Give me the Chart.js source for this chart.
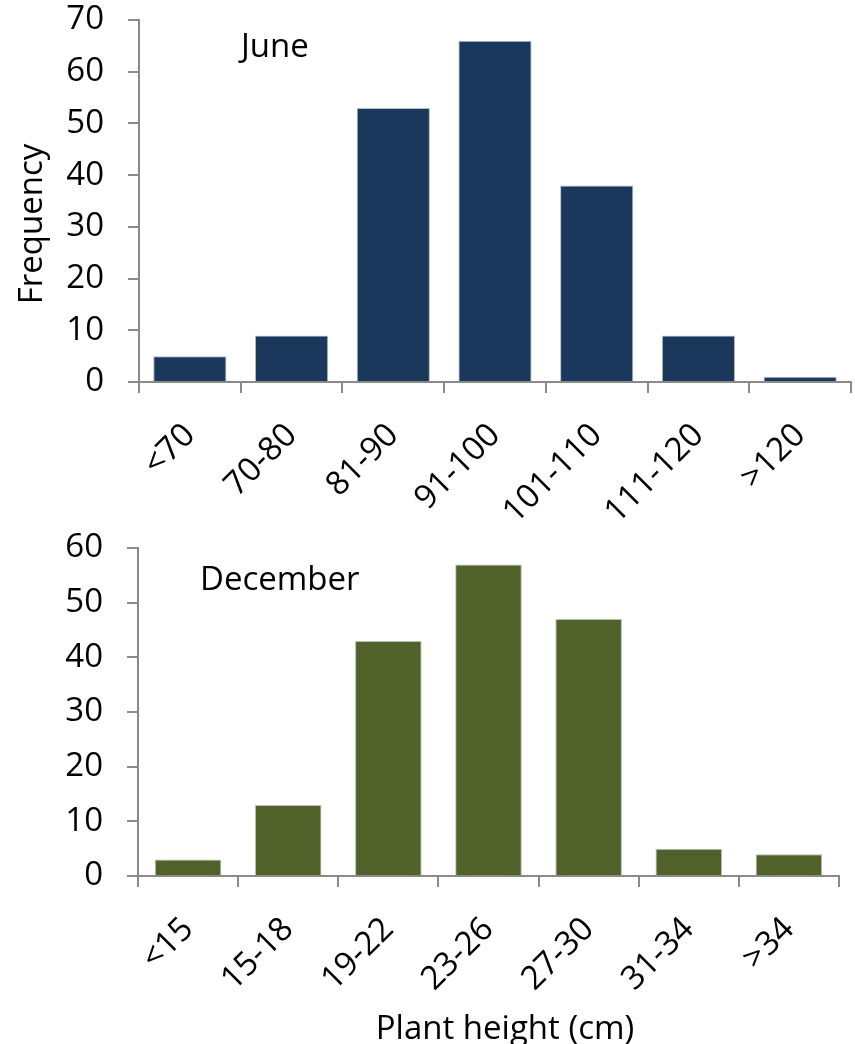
<!DOCTYPE html>
<html>
<head>
<meta charset="utf-8">
<script src="https://cdn.jsdelivr.net/npm/chart.js@4.4.1/dist/chart.umd.min.js"></script>
<style>
  html, body { margin: 0; padding: 0; background: #fff; }
  #wrap { position: relative; width: 855px; height: 1044px; }
  canvas { position: absolute; left: 0; }
</style>
</head>
<body>
<div id="wrap">
  <canvas id="juneChart" width="855" height="520" style="top:0"></canvas>
  <canvas id="decChart" width="855" height="524" style="top:520px"></canvas>
</div>
<script>
// Plant height classes (cm) and counts for the two sampling months
const juneClasses = ['<70', '70-80', '81-90', '91-100', '101-110', '111-120', '>120'];
const juneCounts  = [5, 9, 53, 66, 38, 9, 1];

const decClasses  = ['<15', '15-18', '19-22', '23-26', '27-30', '31-34', '>34'];
const decCounts   = [3, 13, 43, 57, 47, 5, 4];

const juneTicks = { min: 0, max: 70, step: 10 };
const decTicks  = { min: 0, max: 60, step: 10 };

const FONT = '"Open Sans", "DejaVu Sans", sans-serif';
const FONT_SIZE = 33;
const AXIS_GREY = '#8a8a8a';

// Draws the free-standing texts (panel label and axis titles)
const panelText = {
  id: 'panelText',
  afterDraw(chart, args, opts) {
    const ctx = chart.ctx;
    ctx.save();
    ctx.fillStyle = '#000';
    ctx.font = `${FONT_SIZE}px ${FONT}`;
    (opts.items || []).forEach(it => {
      ctx.save();
      ctx.translate(it.x, it.y);
      if (it.rotate) ctx.rotate(it.rotate);
      ctx.textAlign = it.align || 'left';
      ctx.textBaseline = 'alphabetic';
      ctx.fillText(it.text, 0, 0);
      ctx.restore();
    });
    ctx.restore();
  }
};

function makeChart(canvasId, labels, values, ticks, cfg) {
  return new Chart(document.getElementById(canvasId), {
    type: 'bar',
    data: {
      labels: labels,
      datasets: [{
        data: values,
        backgroundColor: cfg.color,
        borderColor: cfg.edge,
        borderWidth: 1,
        borderSkipped: 'bottom',
        categoryPercentage: 1,
        barPercentage: cfg.barPct
      }]
    },
    options: {
      responsive: false,
      animation: false,
      devicePixelRatio: 1,
      layout: { padding: cfg.padding },
      plugins: {
        legend: { display: false },
        tooltip: { enabled: false },
        panelText: { items: cfg.texts }
      },
      scales: {
        x: {
          grid: {
            offset: true,
            drawOnChartArea: false,
            drawTicks: true,
            tickLength: 11,
            color: AXIS_GREY,
            lineWidth: 2
          },
          border: { display: true, color: AXIS_GREY, width: 2 },
          ticks: {
            autoSkip: false,
            minRotation: 45,
            maxRotation: 45,
            padding: 23,
            labelOffset: 0,
            color: '#000',
            font: { family: FONT, size: FONT_SIZE }
          },
          afterFit(scale) { scale.height = cfg.xHeight; }
        },
        y: {
          min: ticks.min,
          max: ticks.max,
          grid: {
            drawOnChartArea: false,
            drawTicks: true,
            tickLength: 11,
            color: AXIS_GREY,
            lineWidth: 2
          },
          border: { display: true, color: AXIS_GREY, width: 2 },
          ticks: {
            stepSize: ticks.step,
            padding: 24,
            color: '#000',
            font: { family: FONT, size: FONT_SIZE }
          },
          afterFit(scale) {
            scale.width = cfg.yWidth;
            scale.paddingTop = 0;
            scale.paddingBottom = 0;
          }
        }
      }
    },
    plugins: [panelText]
  });
}

makeChart('juneChart', juneClasses, juneCounts, juneTicks, {
  color: '#1a375c',
  edge: '#b4bcc7',
  barPct: 0.72,
  padding: { top: 20, right: 4, left: 0, bottom: 0 },
  xHeight: 138,
  yWidth: 139,
  texts: [
    { text: 'June', x: 241, y: 57 },
    { text: 'Frequency', x: 42, y: 224, align: 'center', rotate: -Math.PI / 2 }
  ]
});

makeChart('decChart', decClasses, decCounts, decTicks, {
  color: '#50622a',
  edge: '#bcc2b2',
  barPct: 0.665,
  padding: { top: 28, right: 16, left: 0, bottom: 0 },
  xHeight: 168,
  yWidth: 138,
  texts: [
    { text: 'December', x: 200, y: 70 },
    { text: 'Plant height (cm)', x: 505, y: 519, align: 'center' }
  ]
});
</script>
</body>
</html>
